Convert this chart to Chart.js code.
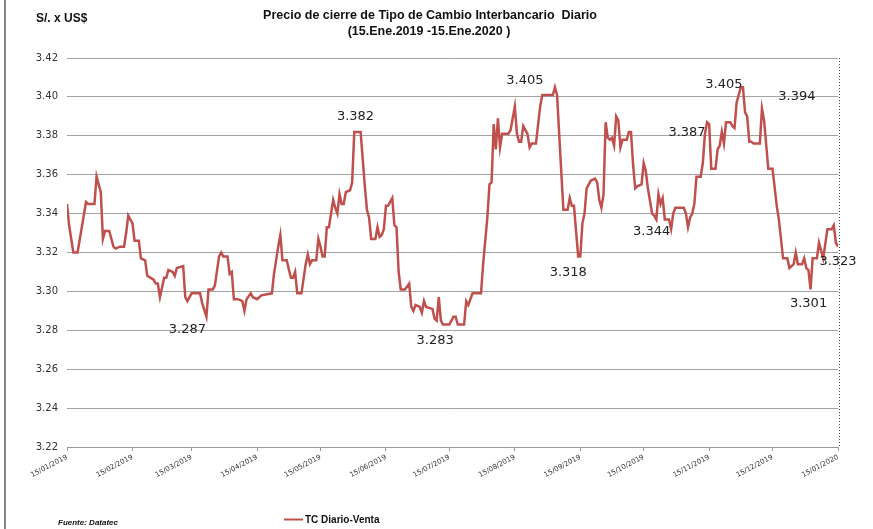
<!DOCTYPE html>
<html>
<head>
<meta charset="utf-8">
<script src="https://cdn.jsdelivr.net/npm/chart.js@4.4.1/dist/chart.umd.min.js"></script>
<style>
  html, body { margin: 0; padding: 0; background: #fff; }
  #wrap { width: 873px; height: 529px; }
</style>
</head>
<body>
<div id="wrap"><canvas id="tcChart" width="873" height="529"></canvas></div>
<script>
// days counted from 15/01/2019 and the closing rate
const dayOffset = [
  0, 1, 3, 5, 9, 10, 13, 14, 16, 17, 18, 20, 22, 23, 25, 27, 28, 29, 31, 32,
  34, 35, 37, 38, 41, 42, 43, 44, 46, 47, 48, 50, 51, 52, 55, 56, 57, 59, 62, 63,
  64, 66, 67, 69, 70, 72, 73, 74, 76, 77, 78, 79, 80, 81, 83, 84, 85, 87, 88, 90,
  92, 97, 98, 100, 101, 102, 104, 106, 107, 108, 109, 111, 113, 114, 115, 116, 118, 119, 120, 121,
  122, 123, 124, 126, 127, 128, 129, 130, 131, 132, 134, 135, 136, 139, 140, 141, 142, 143, 144, 146,
  147, 148, 149, 150, 151, 152, 153, 154, 155, 156, 157, 158, 160, 162, 163, 164, 165, 167, 168, 169,
  170, 173, 174, 175, 176, 177, 178, 181, 183, 184, 185, 188, 189, 190, 192, 196, 197, 199, 200, 201,
  202, 203, 204, 205, 206, 207, 209, 210, 212, 213, 214, 215, 216, 218, 219, 220, 222, 224, 225, 230,
  231, 232, 233, 235, 237, 238, 239, 240, 241, 242, 243, 244, 245, 246, 248, 250, 251, 252, 253, 254,
  255, 256, 257, 258, 259, 260, 261, 262, 263, 265, 266, 267, 268, 269, 270, 272, 273, 274, 275, 277,
  278, 279, 280, 281, 282, 283, 284, 285, 286, 287, 288, 292, 293, 294, 295, 296, 297, 298, 300, 301,
  302, 303, 304, 305, 307, 308, 309, 310, 311, 312, 314, 315, 316, 317, 319, 320, 321, 322, 323, 324,
  325, 328, 329, 330, 332, 334, 336, 337, 339, 341, 342, 344, 345, 346, 348, 349, 350, 351, 352, 353,
  355, 356, 358, 360, 362, 363, 364, 365
];
const tcVenta = [
  3.345, 3.334, 3.320, 3.320, 3.346, 3.345, 3.345, 3.359, 3.351, 3.327, 3.331, 3.331, 3.323, 3.322, 3.323, 3.323, 3.330, 3.339, 3.335, 3.326,
  3.326, 3.317, 3.316, 3.308, 3.306, 3.304, 3.304, 3.297, 3.307, 3.307, 3.311, 3.310, 3.308, 3.312, 3.313, 3.297, 3.295, 3.299, 3.299, 3.299,
  3.294, 3.287, 3.301, 3.301, 3.303, 3.318, 3.320, 3.318, 3.318, 3.309, 3.310, 3.296, 3.296, 3.296, 3.295, 3.290, 3.296, 3.299, 3.297, 3.296,
  3.298, 3.299, 3.309, 3.323, 3.329, 3.316, 3.316, 3.307, 3.307, 3.310, 3.299, 3.299, 3.314, 3.319, 3.314, 3.316, 3.316, 3.327, 3.323, 3.318,
  3.318, 3.333, 3.333, 3.347, 3.343, 3.340, 3.350, 3.345, 3.345, 3.351, 3.352, 3.356, 3.382, 3.382, 3.368, 3.354, 3.342, 3.338, 3.327, 3.327,
  3.333, 3.328, 3.329, 3.332, 3.344, 3.344, 3.346, 3.348, 3.334, 3.333, 3.310, 3.301, 3.301, 3.304, 3.292, 3.290, 3.293, 3.292, 3.289, 3.295,
  3.292, 3.291, 3.286, 3.285, 3.297, 3.285, 3.283, 3.283, 3.287, 3.287, 3.283, 3.283, 3.295, 3.293, 3.299, 3.299, 3.314, 3.338, 3.355, 3.356,
  3.386, 3.373, 3.389, 3.374, 3.381, 3.381, 3.381, 3.383, 3.395, 3.381, 3.377, 3.377, 3.385, 3.381, 3.374, 3.376, 3.376, 3.395, 3.401, 3.401,
  3.405, 3.401, 3.381, 3.342, 3.342, 3.348, 3.344, 3.344, 3.331, 3.318, 3.318, 3.335, 3.340, 3.353, 3.357, 3.358, 3.356, 3.347, 3.343, 3.350,
  3.387, 3.379, 3.378, 3.379, 3.375, 3.390, 3.388, 3.374, 3.378, 3.378, 3.382, 3.382, 3.365, 3.353, 3.354, 3.355, 3.366, 3.362, 3.353, 3.340,
  3.339, 3.337, 3.350, 3.345, 3.348, 3.337, 3.337, 3.337, 3.332, 3.340, 3.343, 3.343, 3.340, 3.333, 3.338, 3.340, 3.345, 3.359, 3.359, 3.366,
  3.381, 3.387, 3.386, 3.363, 3.363, 3.373, 3.375, 3.382, 3.376, 3.387, 3.387, 3.385, 3.384, 3.397, 3.405, 3.405, 3.392, 3.390, 3.377, 3.377,
  3.376, 3.376, 3.394, 3.388, 3.363, 3.363, 3.344, 3.337, 3.317, 3.317, 3.312, 3.314, 3.320, 3.314, 3.314, 3.317, 3.312, 3.311, 3.301, 3.317,
  3.317, 3.325, 3.317, 3.332, 3.332, 3.334, 3.325, 3.323
];

// x axis ticks: the 15th of each month
const tickDays = [0, 31, 59, 90, 120, 151, 181, 212, 243, 273, 304, 334, 365];
const tickLabels = [
  '15/01/2019', '15/02/2019', '15/03/2019', '15/04/2019', '15/05/2019', '15/06/2019', '15/07/2019',
  '15/08/2019', '15/09/2019', '15/10/2019', '15/11/2019', '15/12/2019', '15/01/2020'
];

// highlighted values written on the chart
const noteDays = [66, 138, 179, 231, 242.5, 282, 303, 319.5, 329, 352, 365];
const noteValues = [3.287, 3.382, 3.283, 3.405, 3.318, 3.344, 3.387, 3.405, 3.394, 3.301, 3.323];
// pixel offsets of each note from its point
const noteOffsets = [[-19, 13], [-3, -15], [-10, 16], [-30, -7], [-11, 16], [-11, 26], [-20, 10], [-18, -3], [35, -12], [-2, 14], [0, 15]];

const lineColor = '#C0504D';

const extras = {
  id: 'extras',
  afterDraw(chart) {
    const ctx = chart.ctx;
    const area = chart.chartArea;
    const xs = chart.scales.x, ys = chart.scales.y;
    ctx.save();

    // frame edge on the left
    ctx.fillStyle = '#858585';
    ctx.fillRect(4, 0, 2, chart.height);

    // dotted right border of the plot
    ctx.strokeStyle = '#444';
    ctx.lineWidth = 1;
    ctx.setLineDash([1, 2]);
    ctx.beginPath();
    ctx.moveTo(area.right + 1.5, area.top);
    ctx.lineTo(area.right + 1.5, area.bottom);
    ctx.stroke();
    ctx.setLineDash([]);

    // titles
    ctx.fillStyle = '#111';
    ctx.textAlign = 'center';
    ctx.textBaseline = 'middle';
    ctx.font = 'bold 12.5px "Liberation Sans", Arial, sans-serif';
    ctx.fillText('Precio de cierre de Tipo de Cambio Interbancario  Diario', 430, 16);
    ctx.fillText('(15.Ene.2019 -15.Ene.2020 )', 429, 32);
    ctx.textAlign = 'left';
    ctx.font = 'bold 12px "Liberation Sans", Arial, sans-serif';
    ctx.fillText('S/. x US$', 36, 19);

    // notes
    ctx.font = '13px "DejaVu Sans", sans-serif';
    ctx.fillStyle = '#222';
    ctx.textAlign = 'center';
    noteValues.forEach((v, i) => {
      const px = xs.getPixelForValue(noteDays[i]) + noteOffsets[i][0];
      const py = ys.getPixelForValue(v) + noteOffsets[i][1];
      ctx.fillText(v.toFixed(3), px, py);
    });

    // legend and source
    ctx.strokeStyle = lineColor;
    ctx.lineWidth = 2;
    ctx.beginPath();
    ctx.moveTo(284, 519.5);
    ctx.lineTo(303, 519.5);
    ctx.stroke();
    ctx.fillStyle = '#111';
    ctx.textAlign = 'left';
    ctx.font = 'bold 10px "Liberation Sans", Arial, sans-serif';
    ctx.fillText('TC Diario-Venta', 305, 520);
    ctx.font = 'italic bold 8px "Liberation Sans", Arial, sans-serif';
    ctx.fillText('Fuente: Datatec', 58, 523);

    ctx.restore();
  }
};

const ctx = document.getElementById('tcChart').getContext('2d');
const chart = new Chart(ctx, {
  type: 'line',
  data: {
    datasets: [{
      label: 'TC Diario-Venta',
      data: dayOffset.map((d, i) => ({ x: d, y: tcVenta[i] })),
      borderColor: lineColor,
      borderWidth: 2.5,
      pointRadius: 0,
      tension: 0,
      fill: false
    }]
  },
  options: {
    responsive: false,
    animation: false,
    layout: { padding: { top: 58, right: 35, bottom: 0, left: 0 } },
    plugins: {
      legend: { display: false },
      title: { display: false },
      tooltip: { enabled: false }
    },
    scales: {
      x: {
        type: 'linear',
        min: 0,
        max: 365,
        afterBuildTicks: s => { s.ticks = tickDays.map(v => ({ value: v })); },
        afterFit: s => { s.height = 82; },
        ticks: {
          autoSkip: false,
          minRotation: 28,
          maxRotation: 28,
          padding: 2,
          color: '#333',
          font: { family: '"DejaVu Sans", sans-serif', size: 7 },
          callback: v => tickLabels[tickDays.indexOf(v)]
        },
        grid: { drawOnChartArea: false, drawTicks: true, tickLength: 4, color: '#999' },
        border: { display: true, color: '#999', width: 1 }
      },
      y: {
        min: 3.22,
        max: 3.42,
        afterFit: s => { s.width = 67; },
        ticks: {
          stepSize: 0.02,
          padding: 9,
          color: '#333',
          font: { family: '"DejaVu Sans", sans-serif', size: 10 },
          callback: v => v.toFixed(2)
        },
        grid: { color: '#a3a3a3', lineWidth: 1, drawTicks: false },
        border: { display: false }
      }
    }
  },
  plugins: [extras]
});
</script>
</body>
</html>
